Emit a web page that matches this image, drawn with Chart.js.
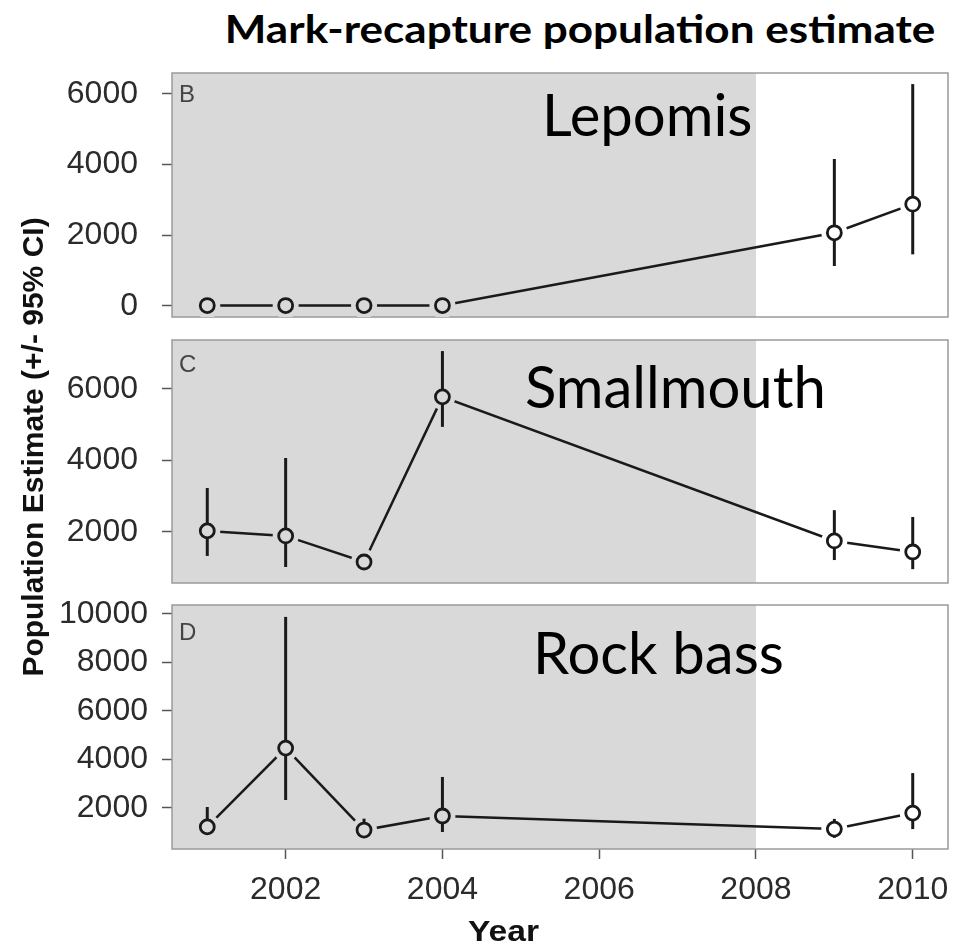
<!DOCTYPE html>
<html>
<head>
<meta charset="utf-8">
<script src="https://cdn.jsdelivr.net/npm/chart.js@4.4.1/dist/chart.umd.min.js"></script>
<style>
  body { margin: 0; background: #fff; }
  #page { position: relative; width: 963px; height: 946px; overflow: hidden; }
  canvas { position: absolute; left: 0; }
  .txt { position: absolute; white-space: nowrap; line-height: 1; z-index: 2; }
  #titre { left: 180px; width: 800px; top: 5px; text-align: center; font: bold 39px Lato, sans-serif; color: #000;
           transform: scaleX(1.13); transform-origin: 400px 0; }
  #ytitre { left: -227px; top: 430px; width: 520px; height: 34px; line-height: 34px; text-align: center;
            transform: rotate(-90deg); font: bold 30px "Liberation Sans", Arial, sans-serif; color: #111; }
  #xtitre { left: 468px; top: 914px; font: bold 30px "Liberation Sans", Arial, sans-serif; color: #111;
            transform: scaleX(1.12); transform-origin: 0 0; }
  .espece { font: 58px Lato, sans-serif; color: #000; }
  .lettre { left: 179px; font: 24px "Liberation Sans", Arial, sans-serif; color: #444; }
</style>
</head>
<body>
<div id="page">
  <div class="txt" id="titre">Mark-recapture population estimate</div>
  <div class="txt" id="ytitre">Population Estimate (+/- 95% CI)</div>
  <div class="txt" id="xtitre">Year</div>

  <div class="txt lettre" style="top:80px">B</div>
  <div class="txt lettre" style="top:350px">C</div>
  <div class="txt lettre" style="top:618px">D</div>

  <div class="txt espece" style="left:542px; top:79px">Lepomis</div>
  <div class="txt espece" style="left:525px; top:351px">Smallmouth</div>
  <div class="txt espece" style="left:533px; top:617px">Rock bass</div>

  <canvas id="chartB" width="963" height="284" style="top:53px"></canvas>
  <canvas id="chartC" width="963" height="283" style="top:320px"></canvas>
  <canvas id="chartD" width="963" height="361" style="top:585px"></canvas>
</div>

<script>
// Années d'échantillonnage
var annees = [2001, 2002, 2003, 2004, 2009, 2010];

// Lepomis : estimation et IC 95 %
var lepomisEst = [10, 10, 10, 10, 2070, 2880];
var lepomisBas = [0, 0, 0, 0, 1130, 1460];
var lepomisHaut = [20, 20, 20, 20, 4160, 6280];

// Smallmouth
var smallEst = [2030, 1890, 1160, 5780, 1750, 1440];
var smallBas = [1330, 1020, 1000, 4940, 1215, 960];
var smallHaut = [3230, 4070, 1320, 7060, 2610, 2420];

// Rock bass
var rockEst = [1220, 4470, 1090, 1670, 1130, 1790];
var rockBas = [1000, 2330, 900, 1010, 770, 1130];
var rockHaut = [2040, 9880, 1560, 3280, 1550, 3440];

// Graduations
var xTicks = [2002, 2004, 2006, 2008, 2010];
var yTicksB = [0, 2000, 4000, 6000];
var yTicksC = [2000, 4000, 6000];
var yTicksD = [2000, 4000, 6000, 8000, 10000];

// Bornes des axes
var xMin = 2000.55, xMax = 2010.45;
var finZoneGrise = 2008;

var gris = "#d9d9d9";
var blanc = "#ffffff";
var couleurTrait = "#1a1a1a";
var policeTicks = { family: "Liberation Sans, Arial, sans-serif", size: 32 };

// Fond du panneau : gris jusqu'en 2008, blanc ensuite, avec un cadre
var fondPanneau = {
  id: "fondPanneau",
  beforeDatasetsDraw: function (chart) {
    var a = chart.chartArea;
    var ctx = chart.ctx;
    var xg = chart.scales.x.getPixelForValue(finZoneGrise);
    ctx.save();
    ctx.fillStyle = blanc;
    ctx.fillRect(a.left, a.top, a.right - a.left, a.bottom - a.top);
    ctx.fillStyle = gris;
    ctx.fillRect(a.left, a.top, xg - a.left, a.bottom - a.top);
    ctx.strokeStyle = "#9a9a9a";
    ctx.lineWidth = 1.5;
    ctx.strokeRect(a.left, a.top, a.right - a.left, a.bottom - a.top);
    ctx.restore();
  },
};

function fondPoint(ctx) {
  var v = ctx.raw;
  return v && v.x < finZoneGrise ? gris : blanc;
}

function creerPanneau(canvasId, est, bas, haut, yMin, yMax, yTicks, basDePage, padTicks) {
  var pts = annees.map(function (a, i) {
    return { x: a, y: est[i] };
  });

  var datasets = [];
  // cercles ouverts
  datasets.push({
    data: pts,
    showLine: false,
    pointRadius: 7,
    pointBorderWidth: 2.8,
    pointBorderColor: couleurTrait,
    pointBackgroundColor: fondPoint,
    order: 0,
  });
  // barres d'erreur (IC 95 %)
  annees.forEach(function (a, i) {
    datasets.push({
      data: [{ x: a, y: bas[i] }, { x: a, y: haut[i] }],
      borderColor: couleurTrait,
      borderWidth: 3,
      pointRadius: 0,
      order: 1,
    });
  });
  // disques pour couper la ligne autour des points
  datasets.push({
    data: pts,
    showLine: false,
    pointRadius: 13,
    pointBorderWidth: 0,
    pointBackgroundColor: fondPoint,
    order: 2,
  });
  // ligne reliant les estimations
  datasets.push({
    data: pts,
    borderColor: couleurTrait,
    borderWidth: 2.5,
    pointRadius: 0,
    order: 3,
  });

  var axeX = {
    type: "linear",
    min: xMin,
    max: xMax,
    display: basDePage,
    afterBuildTicks: function (s) {
      s.ticks = xTicks.map(function (v) { return { value: v }; });
    },
    grid: { drawOnChartArea: false, tickLength: 10, tickColor: "#555", tickWidth: 1.5 },
    border: { display: false },
    ticks: {
      padding: 12,
      font: policeTicks,
      color: "#2b2b2b",
      maxRotation: 0,
      autoSkip: false,
      callback: function (v) { return String(v); },
    },
  };
  if (basDePage) {
    axeX.afterFit = function (s) { s.height = 97; };
  }

  var ctx = document.getElementById(canvasId).getContext("2d");
  return new Chart(ctx, {
    type: "line",
    data: { datasets: datasets },
    plugins: [fondPanneau],
    options: {
      responsive: false,
      animation: false,
      events: [],
      layout: { padding: { top: 20, bottom: basDePage ? 0 : 20, left: 0, right: 15 } },
      plugins: { legend: { display: false }, tooltip: { enabled: false } },
      scales: {
        x: axeX,
        y: {
          min: yMin,
          max: yMax,
          afterBuildTicks: function (s) {
            s.ticks = yTicks.map(function (v) { return { value: v }; });
          },
          afterFit: function (s) {
            s.width = 172;
            s.paddingTop = 0;
            s.paddingBottom = 0;
          },
          grid: { drawOnChartArea: false, tickLength: 10, tickColor: "#555", tickWidth: 1.5 },
          border: { display: false },
          ticks: {
            padding: padTicks,
            font: policeTicks,
            color: "#2b2b2b",
            callback: function (v) { return String(v); },
          },
        },
      },
    },
  });
}

creerPanneau("chartB", lepomisEst, lepomisBas, lepomisHaut, -314, 6594, yTicksB, false, 24);
creerPanneau("chartC", smallEst, smallBas, smallHaut, 573, 7370, yTicksC, false, 24);
creerPanneau("chartD", rockEst, rockBas, rockHaut, 309, 10371, yTicksD, true, 14);
</script>
</body>
</html>
